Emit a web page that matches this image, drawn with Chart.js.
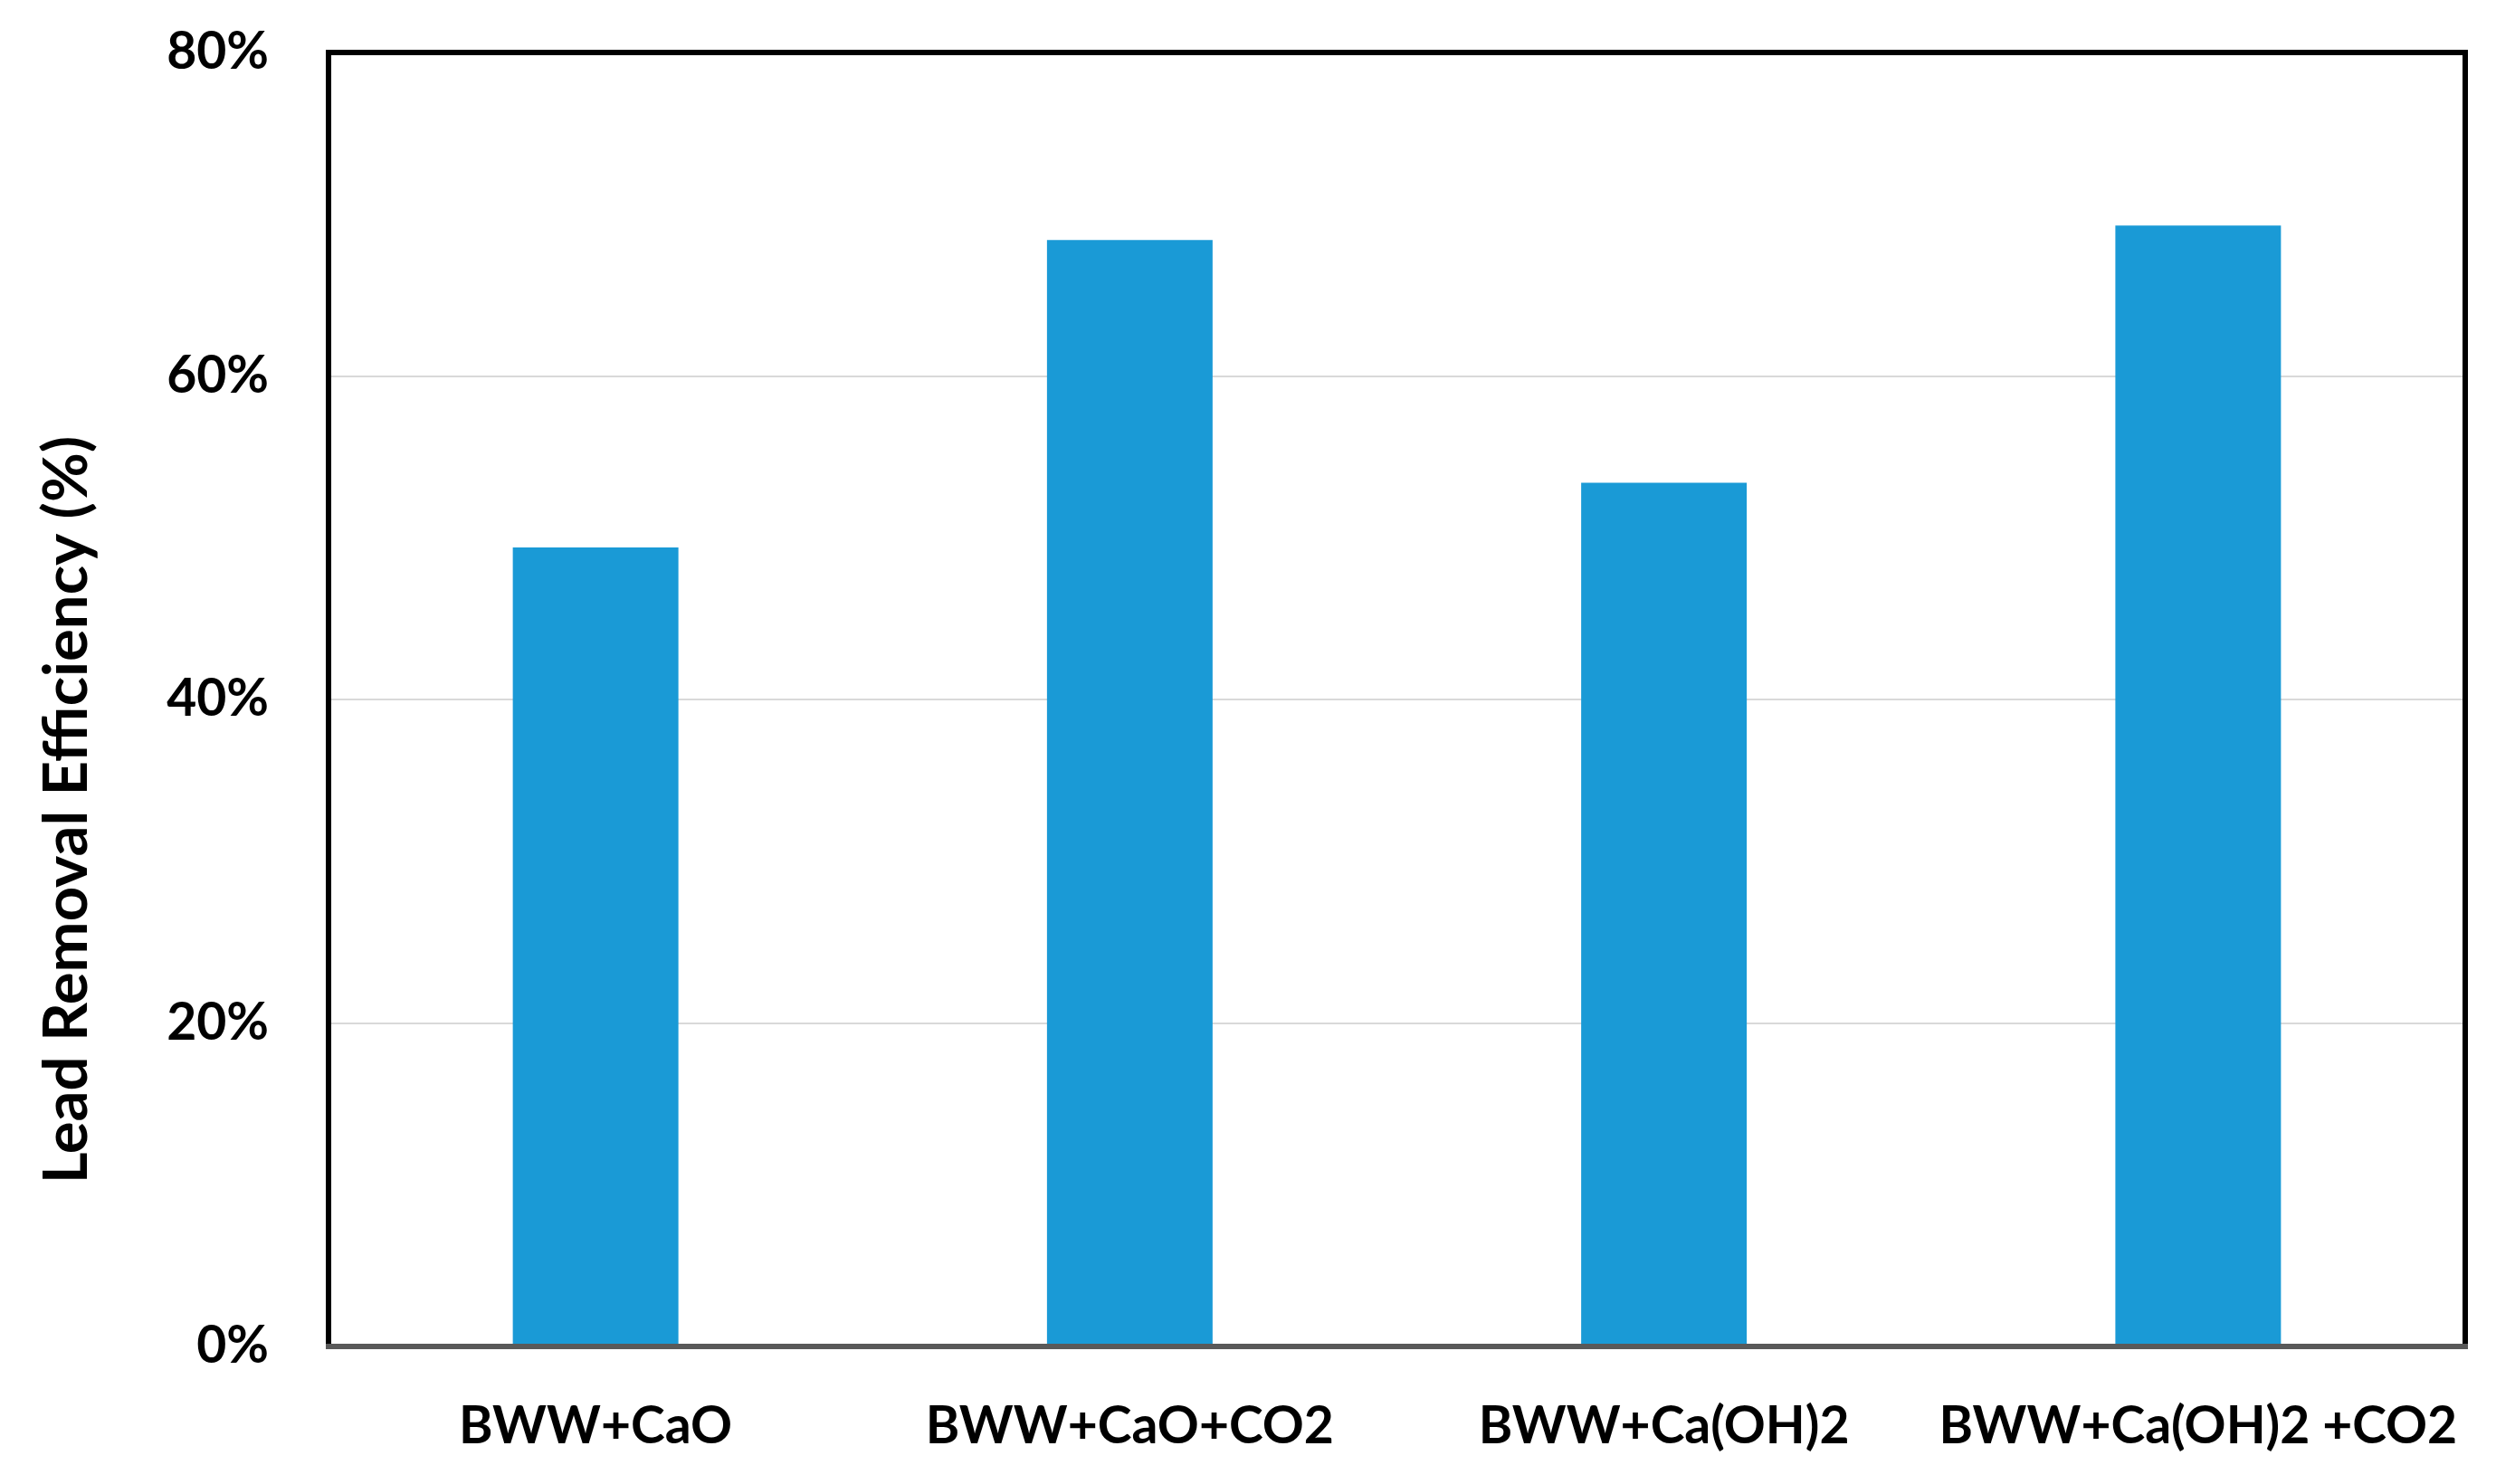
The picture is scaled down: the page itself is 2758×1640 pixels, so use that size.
<!DOCTYPE html>
<html>
<head>
<meta charset="utf-8">
<script src="https://cdn.jsdelivr.net/npm/chart.js@4/dist/chart.umd.min.js"></script>
<style>
  html, body { margin: 0; padding: 0; background: #ffffff; }
  #wrap { width: 2758px; height: 1640px; }
</style>
</head>
<body>
<div id="wrap"><canvas id="chart" width="2758" height="1640"></canvas></div>
<script>
// ---- data ----
const categories = ['BWW+CaO', 'BWW+CaO+CO2', 'BWW+Ca(OH)2', 'BWW+Ca(OH)2 +CO2'];
const removalEfficiency = [49.4, 68.4, 53.4, 69.3];
const yTickValues = [0, 20, 40, 60, 80];
const yAxisTitle = 'Lead Removal Efficiency (%)';

// ---- styling ----
const FONT_FAMILY = 'Lato, "Open Sans", "Liberation Sans", sans-serif';
const BAR_COLOR = '#1a9ad6';

const framePlugin = {
  id: 'frame',
  afterDatasetsDraw(chart) {
    const { ctx, chartArea: a } = chart;
    ctx.save();
    ctx.lineCap = 'square';
    ctx.strokeStyle = '#000000';
    ctx.lineWidth = 6;
    ctx.beginPath();
    ctx.moveTo(a.left, a.bottom);
    ctx.lineTo(a.left, a.top);
    ctx.lineTo(a.right, a.top);
    ctx.lineTo(a.right, a.bottom);
    ctx.stroke();
    ctx.strokeStyle = '#595959';
    ctx.lineWidth = 6;
    ctx.beginPath();
    ctx.moveTo(a.left, a.bottom);
    ctx.lineTo(a.right, a.bottom);
    ctx.stroke();
    ctx.restore();
  }
};

const yTitlePlugin = {
  id: 'yTitle',
  afterDraw(chart) {
    const { ctx } = chart;
    ctx.save();
    ctx.translate(96, 895);
    ctx.rotate(-Math.PI / 2);
    ctx.font = 'bold 67px ' + FONT_FAMILY;
    ctx.fillStyle = '#000000';
    ctx.textAlign = 'center';
    ctx.textBaseline = 'alphabetic';
    ctx.fillText(yAxisTitle, 0, 0);
    ctx.restore();
  }
};

new Chart(document.getElementById('chart'), {
  type: 'bar',
  data: {
    labels: categories,
    datasets: [{
      label: 'Lead Removal Efficiency',
      data: removalEfficiency,
      backgroundColor: BAR_COLOR,
      borderWidth: 0,
      categoryPercentage: 1.0,
      barPercentage: 0.31
    }]
  },
  options: {
    responsive: false,
    animation: false,
    devicePixelRatio: 1,
    layout: { padding: { left: 0, top: 58, right: 34, bottom: 0 } },
    plugins: {
      legend: { display: false },
      tooltip: { enabled: false }
    },
    scales: {
      x: {
        grid: { display: false, drawTicks: false },
        border: { display: false },
        ticks: {
          color: '#000000',
          font: { family: FONT_FAMILY, size: 57, weight: 'bold' },
          padding: 54,
          maxRotation: 0,
          autoSkip: false
        },
        afterFit(scale) {
          scale.height = 1640 - 1488;
          scale.paddingLeft = 0;
          scale.paddingRight = 0;
        }
      },
      y: {
        min: 0,
        max: 80,
        afterBuildTicks(scale) { scale.ticks = yTickValues.map(v => ({ value: v })); },
        grid: { color: '#d9d9d9', lineWidth: 2, drawTicks: false },
        border: { display: false },
        ticks: {
          color: '#000000',
          font: { family: FONT_FAMILY, size: 57, weight: 'bold' },
          padding: 66,
          callback: v => v + '%'
        },
        afterFit(scale) {
          scale.width = 363;
          scale.paddingTop = 0;
          scale.paddingBottom = 0;
        }
      }
    }
  },
  plugins: [framePlugin, yTitlePlugin]
});
</script>
</body>
</html>
